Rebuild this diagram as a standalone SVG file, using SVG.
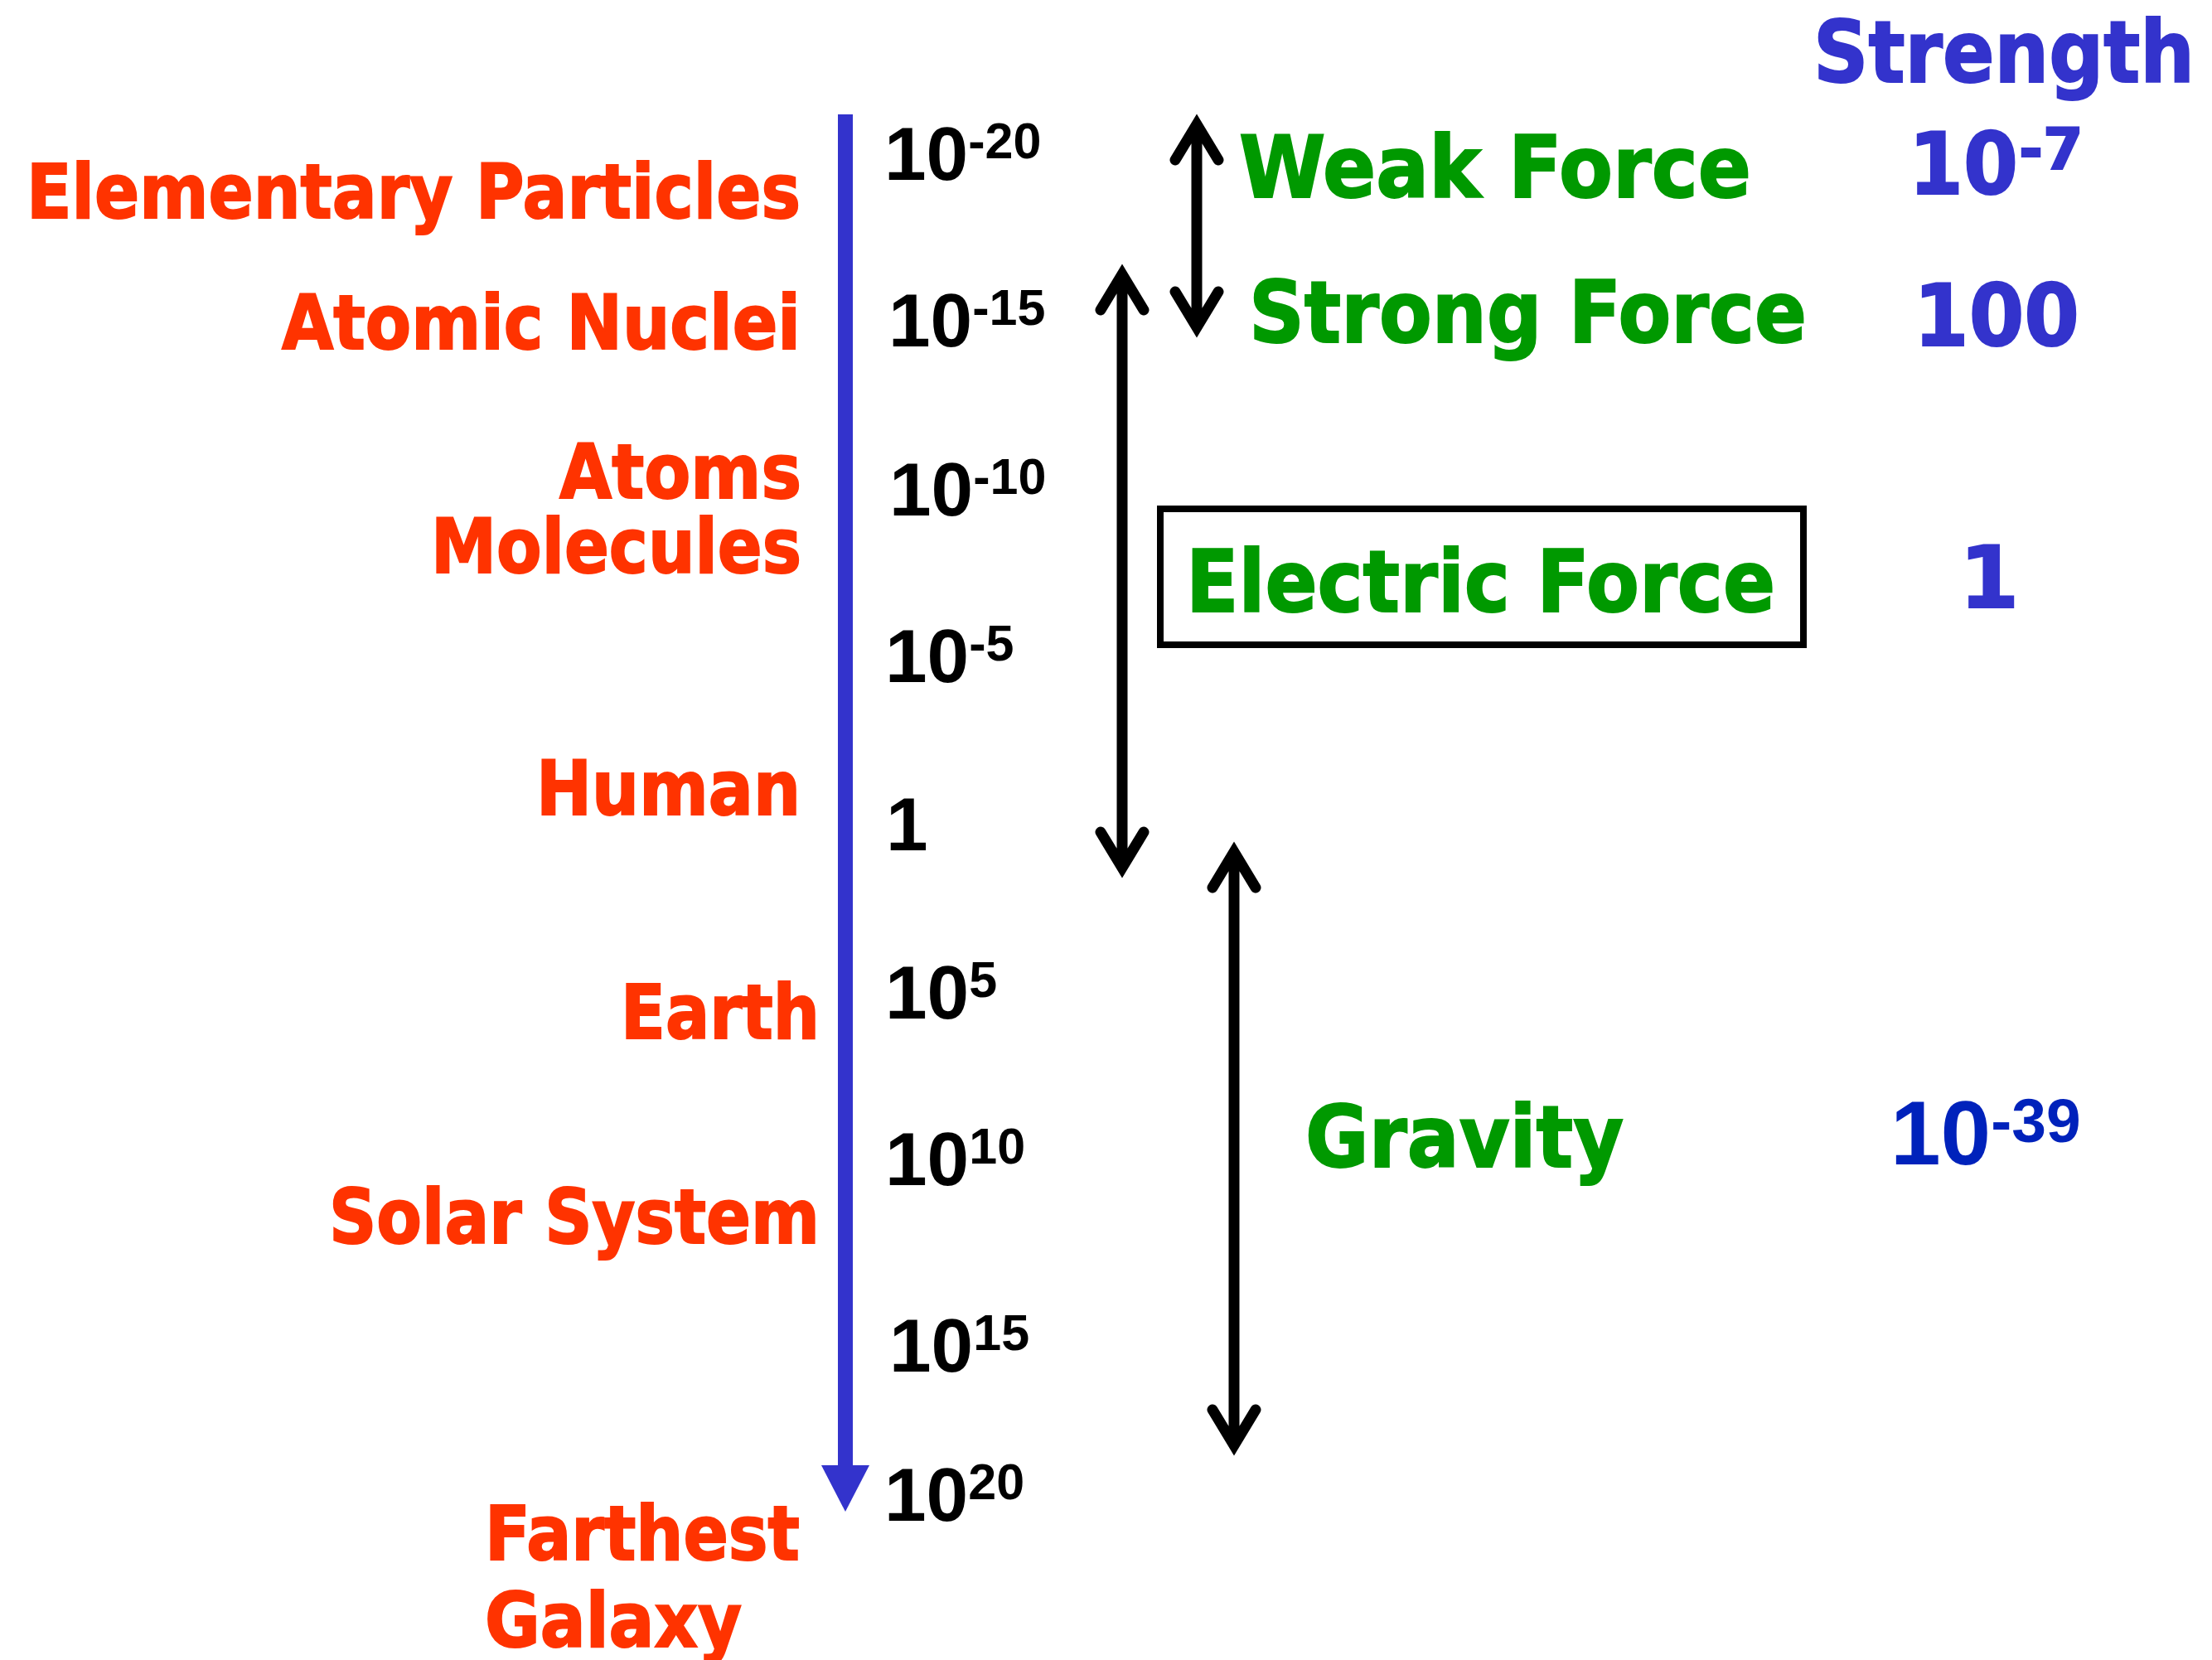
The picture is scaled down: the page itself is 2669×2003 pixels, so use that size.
<svg xmlns="http://www.w3.org/2000/svg" width="2669" height="2003" viewBox="0 0 2669 2003">
<style>
.lbl{font-family:"DejaVu Sans","Verdana",sans-serif;font-weight:bold;fill:#FF3300;stroke:#FF3300;stroke-width:2;font-size:90px}
.frc{font-family:"DejaVu Sans","Verdana",sans-serif;font-weight:bold;fill:#009900;stroke:#009900;stroke-width:2;font-size:104px}
.str{font-family:"DejaVu Sans","Verdana",sans-serif;font-weight:bold;fill:#3333CC;stroke:#3333CC;stroke-width:2;font-size:104px}
.num{font-family:"Liberation Sans","Arial",sans-serif;font-weight:bold;fill:#000;font-size:91px}
.sup{font-size:61px}
.dbl{fill:none;stroke:#000;stroke-width:13;stroke-linecap:round;stroke-linejoin:miter;stroke-miterlimit:10}
</style>
<rect width="2669" height="2003" fill="#fff"/>
<g id="connectors">
  <g id="axis">
    <line x1="1020" y1="138" x2="1020" y2="1772" stroke="#3333CC" stroke-width="18"/>
    <polygon points="991,1768 1049,1768 1020,1824" fill="#3333CC"/>
  </g>
  <g id="weak-range">
    <path class="dbl" d="M1444 150 L1444 395 M1418 193 L1444 150 L1470 193 M1418 352 L1444 395 L1470 352"/>
  </g>
  <g id="electric-range">
    <path class="dbl" d="M1354 331 L1354 1047 M1328 374 L1354 331 L1380 374 M1328 1004 L1354 1047 L1380 1004"/>
  </g>
  <g id="gravity-range">
    <path class="dbl" d="M1489 1028 L1489 1744 M1463 1071 L1489 1028 L1515 1071 M1463 1701 L1489 1744 L1515 1701"/>
  </g>
</g>
<g id="objects">
  <g id="elementary"><text class="lbl" x="966" y="263" text-anchor="end" textLength="934" lengthAdjust="spacingAndGlyphs">Elementary Particles</text></g>
  <g id="nuclei"><text class="lbl" x="966" y="421" text-anchor="end" textLength="626" lengthAdjust="spacingAndGlyphs">Atomic Nuclei</text></g>
  <g id="atoms"><text class="lbl" x="967" y="601" text-anchor="end" textLength="292" lengthAdjust="spacingAndGlyphs">Atoms</text></g>
  <g id="molecules"><text class="lbl" x="967" y="691" text-anchor="end" textLength="447" lengthAdjust="spacingAndGlyphs">Molecules</text></g>
  <g id="human"><text class="lbl" x="966" y="983" text-anchor="end" textLength="319" lengthAdjust="spacingAndGlyphs">Human</text></g>
  <g id="earth"><text class="lbl" x="989" y="1253" text-anchor="end" textLength="240" lengthAdjust="spacingAndGlyphs">Earth</text></g>
  <g id="solar"><text class="lbl" x="989" y="1500" text-anchor="end" textLength="592" lengthAdjust="spacingAndGlyphs">Solar System</text></g>
  <g id="galaxy">
    <text class="lbl" x="585" y="1882" textLength="380" lengthAdjust="spacingAndGlyphs">Farthest</text>
    <text class="lbl" x="585" y="1987" textLength="310" lengthAdjust="spacingAndGlyphs">Galaxy</text>
  </g>
</g>
<g id="scale">
  <text class="num" x="1067" y="217">10<tspan class="sup" dy="-26">-20</tspan></text>
  <text class="num" x="1072" y="418">10<tspan class="sup" dy="-26">-15</tspan></text>
  <text class="num" x="1073" y="622">10<tspan class="sup" dy="-26">-10</tspan></text>
  <text class="num" x="1068" y="823">10<tspan class="sup" dy="-26">-5</tspan></text>
  <text class="num" x="1069" y="1026">1</text>
  <text class="num" x="1068" y="1229">10<tspan class="sup" dy="-26">5</tspan></text>
  <text class="num" x="1068" y="1430">10<tspan class="sup" dy="-26">10</tspan></text>
  <text class="num" x="1073" y="1655">10<tspan class="sup" dy="-26">15</tspan></text>
  <text class="num" x="1067" y="1835">10<tspan class="sup" dy="-26">20</tspan></text>
</g>
<g id="forces">
  <g id="weak"><text class="frc" x="1495" y="238" textLength="618" lengthAdjust="spacingAndGlyphs">Weak Force</text></g>
  <g id="strong"><text class="frc" x="1507" y="413" textLength="673" lengthAdjust="spacingAndGlyphs">Strong Force</text></g>
  <g id="electric">
    <rect x="1400" y="614" width="776" height="164" fill="none" stroke="#000" stroke-width="8"/>
    <text class="frc" x="1431" y="738" textLength="711" lengthAdjust="spacingAndGlyphs">Electric Force</text>
  </g>
  <g id="gravity"><text class="frc" x="1575" y="1408" textLength="384" lengthAdjust="spacingAndGlyphs">Gravity</text></g>
</g>
<g id="strengths">
  <text class="str" x="2188" y="99" textLength="460" lengthAdjust="spacingAndGlyphs">Strength</text>
  <text class="str" x="2303" y="234" textLength="132" lengthAdjust="spacingAndGlyphs">10</text>
  <text class="str" x="2436" y="204" style="font-size:70px">-7</text>
  <text class="str" x="2309" y="417" textLength="200" lengthAdjust="spacingAndGlyphs">100</text>
  <text class="str" x="2364" y="733">1</text>
  <text class="num" x="2281" y="1405" style="fill:#0022BB;font-size:109px">10<tspan dy="-27" style="font-size:75px">-39</tspan></text>
</g>
</svg>
